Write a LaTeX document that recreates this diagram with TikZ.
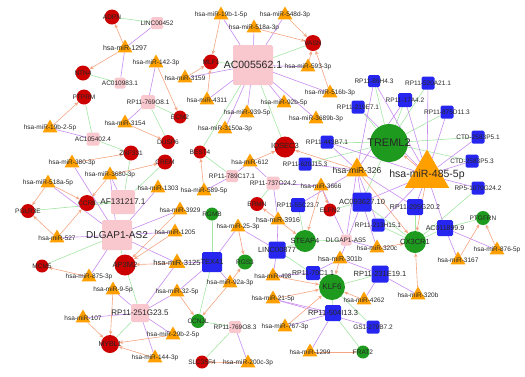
\documentclass[tikz,border=0pt]{standalone}
\usepackage{fontspec}
\setmainfont{Liberation Sans}
\usetikzlibrary{shapes.geometric,arrows.meta}
\pgfdeclarelayer{bg}
\pgfdeclarelayer{fg}
\pgfsetlayers{bg,main,fg}
\definecolor{mred}{HTML}{CC0000}
\definecolor{mgreen}{HTML}{1E9A1E}
\definecolor{lblue}{HTML}{2626F0}
\definecolor{lpink}{HTML}{F9C8CE}
\definecolor{mor}{HTML}{FFA000}
\definecolor{eor}{HTML}{F5A583}
\definecolor{epu}{HTML}{C88CF0}
\definecolor{egr}{HTML}{A4E6A4}
\tikzset{
 mi/.style={regular polygon, regular polygon sides=3, fill=mor, inner sep=0pt, minimum size=#1},
 mi/.default=17pt,
 rc/.style={circle, fill=mred, inner sep=0pt, minimum size=#1}, rc/.default=15pt,
 gc/.style={circle, fill=mgreen, inner sep=0pt, minimum size=#1}, gc/.default=15pt,
 bs/.style={rectangle, rounded corners=1.5pt, fill=lblue, inner sep=0pt, minimum size=#1}, bs/.default=14pt,
 ps/.style={rectangle, rounded corners=1.5pt, fill=lpink, inner sep=0pt, minimum size=#1}, ps/.default=13pt,
 lb/.style={inner sep=0pt, text=black!85},
 ea/.style={draw=eor, line width=0.6pt, -{Stealth[length=4pt,width=3.5pt]}},
 ep/.style={draw=epu, line width=0.6pt},
 eg/.style={draw=egr, line width=0.6pt}
}
\newcommand\NN[5]{\node[#1] (#2) at (#3) {};
 \begin{pgfonlayer}{fg}\node[lb,font=\fontsize{#5}{#5}\selectfont] at (#3) {#4};\end{pgfonlayer}}
\begin{document}
\begin{tikzpicture}[x=1pt,y=-1pt]
\useasboundingbox (0,0) rectangle (525,376);
% ---- mRNA red
\NN{rc}{ADPN}{112,17}{ADPN}{6.5}
\NN{rc}{NTN4}{83,73}{NTN4}{6.5}
\NN{rc}{PTPRM}{84,97}{PTPRM}{6.5}
\NN{rc}{MLF1}{211,62}{MLF1}{6.5}
\NN{rc=13pt}{ECM2}{180,117}{ECM2}{6.5}
\NN{rc=16pt}{VASN}{313,43}{VASN}{6.5}
\NN{rc=14pt}{DUSP6}{168,142}{DUSP6}{6.5}
\NN{rc=13pt}{BEST4}{200,152}{BEST4}{6.5}
\NN{rc}{CREM}{165,162}{CREM}{6.5}
\NN{rc}{ZNF331}{131,153}{ZNF331}{6.5}
\NN{rc=16pt}{CCR8}{87,203}{CCR8}{6.5}
\NN{rc=14pt}{POLR3E}{28,211}{POLR3E}{6.5}
\NN{rc=21pt}{IQSEC3}{285,147}{IQSEC3}{7.5}
\NN{rc=14pt}{ERMN}{257,204}{ERMN}{6.5}
\NN{rc=13pt}{ELFN2}{330,210}{ELFN2}{6.5}
\NN{rc=21pt}{AP3M2}{125,265}{AP3M2}{7.5}
\NN{rc=13pt}{MCM5}{42,266}{MCM5}{6.5}
\NN{rc=18pt}{MYBL1}{110,344}{MYBL1}{7}
\NN{rc=13pt}{SLC}{202,362}{SLC35F4}{6.5}
% ---- mRNA green
\NN{gc=38pt}{TREML2}{389,143}{TREML2}{11}
\NN{gc=13pt}{RGMB}{212,214}{RGMB}{6.5}
\NN{gc=22pt}{STEAP4}{305,241}{STEAP4}{7.5}
\NN{gc=22pt}{CX3CR1}{415,242}{CX3CR1}{7.5}
\NN{gc=14pt}{PTGFRN}{483,218}{PTGFRN}{6.5}
\NN{gc=15pt}{RGS3}{245,262}{RGS3}{6.5}
\NN{gc=14pt}{CCNJL}{198,321}{CCNJL}{6.5}
\NN{gc=26pt}{KLF6}{332,287}{KLF6}{8}
\NN{gc=13pt}{FRAT2}{363,352}{FRAT2}{6.5}
% ---- blue lncRNA
\NN{bs=12pt}{b86H}{374,81}{RP11-86H4.3}{6.5}
\NN{bs=13pt}{b219}{358,107}{RP11-219E7.1}{6.5}
\NN{bs=13pt}{b520}{428,83}{RP11-520A21.1}{6.5}
\NN{bs=14pt}{b17A}{405,100}{RP11-17A4.2}{6.5}
\NN{bs=13pt}{b875}{447,112}{RP11-875D11.3}{6.5}
\NN{bs=13pt}{ctd1}{478,137}{CTD-2583P5.1}{6.5}
\NN{bs=13pt}{ctd3}{472,161}{CTD-2583P5.3}{6.5}
\NN{bs=13pt}{rp5}{478,188}{RP5-1070G24.2}{6.5}
\NN{bs=16pt}{b295}{415,207}{RP11-295G20.2}{7}
\NN{bs=16pt}{ac011}{445,228}{AC011899.9}{7}
\NN{bs=13pt}{b443}{327,142}{RP11-443B7.1}{6.5}
\NN{bs=13pt}{b620}{305,164}{RP11-620J15.3}{6.5}
\NN{bs=14pt}{b55C}{298,205}{RP11-55C23.7}{6.5}
\NN{bs=19pt}{ac093}{362,202}{AC093627.10}{7.5}
\NN{bs=13pt}{b213}{378,225}{RP11-213H15.1}{6.5}
\NN{bs=17pt}{linc877}{277,250}{LINC00877}{7.5}
\NN{bs=20pt}{TEX41}{212,262}{TEX41}{7.5}
\NN{bs=14pt}{b70C}{313,273}{RP11-70C1.1}{7}
\NN{bs=17pt}{b231}{380,274}{RP11-231E19.1}{7.5}
\NN{bs=16pt}{b504}{333,313}{RP11-504I13.3}{7.5}
\NN{bs=13pt}{gs1}{373,327}{GS1-279B7.2}{6.5}
% ---- pink lncRNA
\NN{ps=40pt}{ac005}{253,65}{AC005562.1}{10.5}
\NN{ps=12pt}{linc452}{157,23}{LINC00452}{6.5}
\NN{ps=11pt}{ac010}{120,83}{AC010983.1}{6.5}
\NN{ps=14pt}{r769a}{148,102}{RP11-769O8.1}{6.5}
\NN{ps=13pt}{ac105}{93,139}{AC105402.4}{6.5}
\NN{ps=24pt}{af131}{123,202}{AF131217.1}{8.3}
\NN{ps=30pt}{dlg2}{117,235}{DLGAP1-AS2}{10}
\NN{ps=12pt}{r789}{232,176}{RP11-789C17.1}{6.5}
\NN{ps=13pt}{r737}{273,183}{RP11-737O24.2}{6.5}
\NN{ps=11pt}{dlg5}{346,240}{DLGAP1-AS5}{6.5}
\NN{ps=18pt}{r251}{140,313}{RP11-251G23.5}{8}
\NN{ps=12pt}{r769b}{235,327}{RP11-769O8.3}{6.5}
% ---- miRNA
\NN{mi}{m1297}{125,48}{hsa-miR-1297}{7}
\NN{mi}{m19bb}{50,128}{hsa-miR-19b-2-5p}{6.5}
\NN{mi}{m3154}{125,123}{hsa-miR-3154}{6.5}
\NN{mi}{m19ba}{221,15}{hsa-miR-19b-1-5p}{6.5}
\NN{mi}{m518a3}{254,28}{hsa-miR-518a-3p}{6.5}
\NN{mi}{m142}{156,63}{hsa-miR-142-3p}{6.5}
\NN{mi}{m3159}{185,78}{hsa-miR-3159}{6.5}
\NN{mi}{m4311}{207,100}{hsa-miR-4311}{6.5}
\NN{mi}{m939}{247,113}{hsa-miR-939-5p}{6.5}
\NN{mi}{m3150}{225,129}{hsa-miR-3150a-3p}{6.5}
\NN{mi}{m548}{285,15}{hsa-miR-548d-3p}{6.5}
\NN{mi}{m593}{308,67}{hsa-miR-593-3p}{6.5}
\NN{mi}{m516}{330,93}{hsa-miR-516b-3p}{6.5}
\NN{mi}{m92b}{284,103}{hsa-miR-92b-5p}{6.5}
\NN{mi}{m3689}{316,119}{hsa-miR-3689b-3p}{6.5}
\NN{mi}{m380}{72,163}{hsa-miR-380-3p}{6.5}
\NN{mi}{m3680}{110,175}{hsa-miR-3680-3p}{6.5}
\NN{mi}{m518a5}{48,183}{hsa-miR-518a-5p}{6.5}
\NN{mi}{m527}{57,238}{hsa-miR-527}{6.5}
\NN{mi}{m1303}{158,188}{hsa-miR-1303}{6.5}
\NN{mi}{m589}{204,191}{hsa-miR-589-5p}{6.5}
\NN{mi}{m612}{250,162}{hsa-miR-612}{6.5}
\NN{mi}{m3929}{180,210}{hsa-miR-3929}{6.5}
\NN{mi}{m1205}{175,232}{hsa-miR-1205}{6.5}
\NN{mi}{m25}{238,227}{hsa-miR-25-3p}{6.5}
\NN{mi=25pt}{m326}{357,170}{hsa-miR-326}{8.5}
\NN{mi}{m3666}{321,186}{hsa-miR-3666}{6.5}
\NN{mi}{m3916}{278,220}{hsa-miR-3916}{7}
\NN{mi}{m320c}{377,248}{hsa-miR-320c}{6.5}
\NN{mi=51pt}{m485}{427,175}{hsa-miR-485-5p}{10.5}
\NN{mi}{m876}{497,250}{hsa-miR-876-5p}{6.5}
\NN{mi}{m3167}{458,260}{hsa-miR-3167}{6.5}
\NN{mi}{m320b}{418,295}{hsa-miR-320b}{6.5}
\NN{mi}{m301}{340,259}{hsa-miR-301b}{7}
\NN{mi}{m498}{273,276}{hsa-miR-498}{6.5}
\NN{mi}{m21}{273,299}{hsa-miR-21-5p}{6.5}
\NN{mi}{m767}{285,327}{hsa-miR-767-3p}{6.5}
\NN{mi}{m4262}{364,300}{hsa-miR-4262}{6.5}
\NN{mi}{m1299}{310,352}{hsa-miR-1299}{6.5}
\NN{mi=19pt}{m3125}{177,263}{hsa-miR-3125}{7.5}
\NN{mi}{m92a}{230,283}{hsa-miR-92a-3p}{6.5}
\NN{mi}{m32}{177,292}{hsa-miR-32-5p}{6.5}
\NN{mi}{m29b}{173,335}{hsa-miR-29b-2-5p}{6.5}
\NN{mi}{m144}{155,358}{hsa-miR-144-3p}{6.5}
\NN{mi}{m200c}{248,363}{hsa-miR-200c-3p}{6.5}
\NN{mi}{m875}{89,277}{hsa-miR-875-3p}{6.5}
\NN{mi}{m9}{113,290}{hsa-miR-9-5p}{6.5}
\NN{mi}{m107}{83,318}{hsa-miR-107}{6.5}
% ---- edges
\begin{pgfonlayer}{bg}
% green lncRNA-mRNA
\foreach \a/\b in {linc452/ADPN, ac010/NTN4, ac105/PTPRM, ac105/ZNF331, af131/ZNF331, ac005/MLF1, ac005/VASN, ac005/IQSEC3, ac005/BEST4,
 r769a/DUSP6, r769a/ECM2, af131/CCR8, af131/POLR3E, af131/CREM, dlg2/MCM5, dlg2/AP3M2, r789/BEST4, r737/ERMN, r251/MYBL1, r251/AP3M2,
 TEX41/RGMB, TEX41/CCNJL, r769b/SLC, r769b/CCNJL, linc877/STEAP4, linc877/KLF6, b70C/KLF6, b504/KLF6, b504/FRAT2, b231/KLF6, gs1/KLF6,
 dlg5/STEAP4, b55C/STEAP4, TREML2/b86H, TREML2/b219, TREML2/b17A, TREML2/b520, TREML2/b875, TREML2/ctd1, TREML2/ctd3, TREML2/b443,
 TREML2/b620, TREML2/ac093, CX3CR1/b295, CX3CR1/ac011, CX3CR1/b213, CX3CR1/ac093, CX3CR1/rp5, PTGFRN/ac011, ELFN2/ac093}
 \draw[eg] (\a) -- (\b);
% purple lncRNA-miRNA
\foreach \a/\b in {ac005/m19ba, ac005/m518a3, ac005/m548, ac005/m593, ac005/m516, ac005/m92b, ac005/m3689, ac005/m939, ac005/m3150,
 ac005/m4311, ac005/m3159, linc452/m1297, ac010/m1297, r769a/m142, r769a/m3154, ac105/m19bb,
 dlg2/m380, dlg2/m3680, dlg2/m518a5, dlg2/m527, dlg2/m3929, dlg2/m1205, dlg2/m1303, dlg2/m875, dlg2/m3125, af131/m3680,
 r789/m589, r789/m612, r737/m612, r737/m3916, r737/m3666,
 r251/m9, r251/m107, r251/m32, r251/m29b, r251/m144, r251/m3125, TEX41/m3125, TEX41/m32, TEX41/m92a, TEX41/m25,
 linc877/m25, linc877/m3916, linc877/m498, r769b/m200c, b70C/m301, b70C/m498, b504/m21, b504/m767, b504/m1299, gs1/m21,
 b231/m301, b231/m320b, b231/m4262, dlg5/m326, dlg5/m3666, dlg5/m320c, ac093/m326, ac093/m485, ac093/m320c, ac093/m301,
 b213/m326, b213/m485, b55C/m326, b620/m326, b443/m326, b443/m485, b219/m485, b86H/m485, b86H/m326, b17A/m485, b17A/m326,
 b520/m485, b875/m485, ctd1/m485, ctd3/m485, rp5/m485, b295/m485, b295/m326, ac011/m485, ac011/m3167, ac011/m876}
 \draw[ep] (\a) -- (\b);
% orange miRNA -> mRNA
\foreach \a/\b in {m1297/ADPN, m1297/NTN4, m19bb/PTPRM, m19ba/MLF1, m3159/MLF1, m4311/MLF1, m142/ECM2, m548/VASN, m518a3/VASN,
 m593/VASN, m516/VASN, m380/ZNF331, m3680/CCR8, m3680/CREM, m518a5/POLR3E, m518a5/CCR8, m527/POLR3E, m527/CCR8, m3154/DUSP6,
 m589/BEST4, m612/IQSEC3, m3916/ERMN, m3916/STEAP4, m3666/ELFN2, m3666/STEAP4, m326/IQSEC3, m326/CX3CR1, m485/TREML2,
 m485/CX3CR1, m320c/CX3CR1, m320b/CX3CR1, m876/PTGFRN, m3167/PTGFRN, m92a/RGS3, m92a/CCNJL, m32/CCNJL, m25/RGS3, m3125/AP3M2,
 m875/MCM5, m9/MYBL1, m107/MYBL1, m29b/MYBL1, m144/MYBL1, m200c/SLC, m498/KLF6, m21/KLF6, m767/KLF6, m4262/KLF6, m301/KLF6,
 m1299/FRAT2, m3929/AP3M2, m1205/AP3M2}
 \draw[ea] (\a) -- (\b);
\end{pgfonlayer}
\end{tikzpicture}
\end{document}
